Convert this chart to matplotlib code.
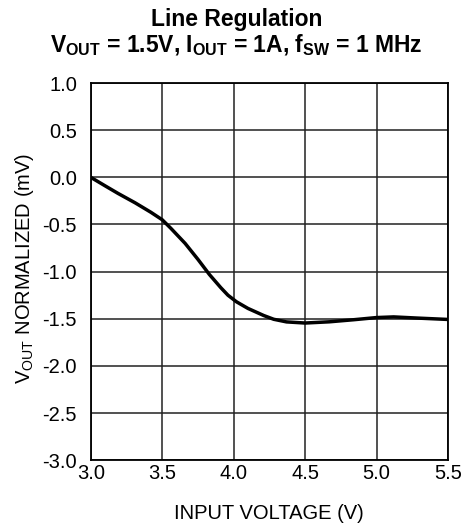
import matplotlib.pyplot as plt
import numpy as np

plt.rcParams['font.family'] = ['Liberation Sans', 'DejaVu Sans']
plt.rcParams['mathtext.fontset'] = 'custom'
plt.rcParams['mathtext.rm'] = 'Liberation Sans'
plt.rcParams['mathtext.bf'] = 'Liberation Sans:bold'

# curve
vin = [3.0, 3.1, 3.19, 3.31, 3.42, 3.5, 3.56, 3.66, 3.75, 3.83, 3.91, 3.96,
       4.02, 4.1, 4.21, 4.28, 4.37, 4.5, 4.67, 4.84, 5.0, 5.12, 5.28, 5.5]
dv = [0.0, -0.09, -0.17, -0.27, -0.37, -0.45, -0.54, -0.70, -0.87, -1.03,
      -1.17, -1.25, -1.32, -1.39, -1.465, -1.505, -1.533, -1.545, -1.532,
      -1.51, -1.487, -1.48, -1.492, -1.507]

xticks = [3.0, 3.5, 4.0, 4.5, 5.0, 5.5]
yticks = [1.0, 0.5, 0.0, -0.5, -1.0, -1.5, -2.0, -2.5, -3.0]

fig = plt.figure(figsize=(4.73, 5.29), dpi=100)
ax = fig.add_axes([0.192, 0.130, 0.755, 0.713])

ax.plot(vin, dv, color='black', lw=2.5, solid_capstyle='butt', solid_joinstyle='round')

ax.set_xlim(3.0, 5.5)
ax.set_ylim(-3.0, 1.0)
ax.set_xticks(xticks)
ax.set_xticklabels([f'{v:.1f}' for v in xticks])
ax.set_yticks(yticks)
ax.set_yticklabels([f'{v:.1f}' for v in yticks])
ax.tick_params(length=0, labelsize=14.5)
ax.tick_params(axis='x', pad=3)
ax.tick_params(axis='y', pad=10)
ax.grid(True, color='#222222', lw=1.1)
for s in ax.spines.values():
    s.set_linewidth(1.3)

ax.set_xlabel('INPUT VOLTAGE (V)', fontsize=14.5, va='top')
ax.xaxis.set_label_coords(0.5, -0.117)
ax.set_ylabel(r'V$_\mathregular{OUT}$ NORMALIZED (mV)', fontsize=14.5, va='center')
ax.yaxis.set_label_coords(-0.185, 0.51)

fig.text(0.5, 0.951, 'Line Regulation', ha='center', va='baseline',
         fontsize=16.5, fontweight='bold')
fig.text(0.5, 0.902, r'V$_\mathbf{OUT}$ = 1.5V, I$_\mathbf{OUT}$ = 1A, f$_\mathbf{SW}$ = 1 MHz',
         ha='center', va='baseline', fontsize=16.5, fontweight='bold')

fig.savefig('out.png', dpi=100)
